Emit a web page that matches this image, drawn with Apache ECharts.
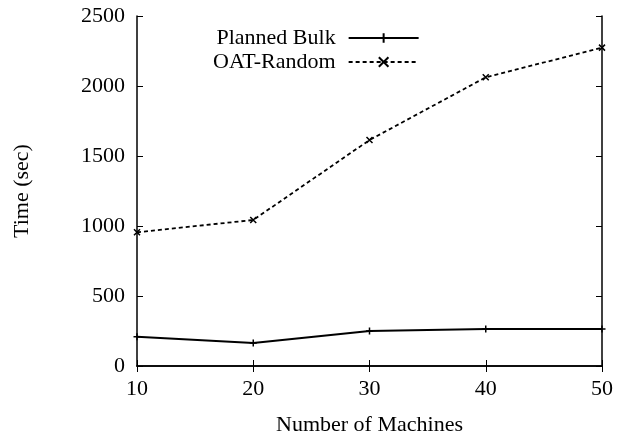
<!DOCTYPE html>
<html><head><meta charset="utf-8">
<script src="https://cdn.jsdelivr.net/npm/echarts@6/dist/echarts.min.js"></script>
<style>html,body{margin:0;padding:0;background:#fff}#c{width:617px;height:442px}</style>
</head><body><div id="c"></div>
<script>
const machines = [10, 20, 30, 40, 50];
const plannedBulk = [209, 164, 250, 264, 264];
const oatRandom = [955, 1043, 1614, 2062, 2274];
const xTicks = [10, 20, 30, 40, 50];
const yTicks = [0, 500, 1000, 1500, 2000, 2500];

const FONT = 'Liberation Serif';
const plusPath = 'path://M0,5L10,5M5,0L5,10';
const crossPath = 'path://M0,0L10,10M10,0L0,10';
const chart = echarts.init(document.getElementById('c'));
const axisCommon = {
  axisLine: {show: true, lineStyle: {color: '#000', width: 1.5}},
  axisTick: {show: true, inside: true, length: 6, lineStyle: {color: '#000'}},
  splitLine: {show: false}
};
chart.setOption({
  animation: false,
  grid: {left: 137, right: 15, top: 16, bottom: 76},
  legend: {
    left: 208, top: 22, orient: 'vertical', itemGap: 2, align: 'right',
    itemWidth: 70, itemHeight: 12,
    textStyle: {fontFamily: FONT, fontSize: 22, color: '#000', padding: [0, 8, 0, 0]},
    data: ['Planned Bulk', 'OAT-Random']
  },
  xAxis: [
    Object.assign({type: 'value', min: xTicks[0], max: xTicks[xTicks.length-1], interval: 10,
      name: 'Number of Machines', nameLocation: 'middle', nameGap: 48,
      nameTextStyle: {fontFamily: FONT, fontSize: 22, color: '#000'},
      axisLabel: {fontFamily: FONT, fontSize: 22, color: '#000', margin: 12, formatter: v => String(v)}}, axisCommon),
    Object.assign({type: 'value', position: 'top', min: xTicks[0], max: xTicks[xTicks.length-1], interval: 10,
      axisLabel: {show: false}}, axisCommon)
  ],
  yAxis: [
    Object.assign({type: 'value', min: yTicks[0], max: yTicks[yTicks.length-1], interval: 500,
      name: 'Time (sec)', nameLocation: 'middle', nameGap: 104, nameRotate: 90,
      nameTextStyle: {fontFamily: FONT, fontSize: 22, color: '#000'},
      axisLabel: {fontFamily: FONT, fontSize: 22, color: '#000', margin: 12, formatter: v => String(v)}}, axisCommon),
    Object.assign({type: 'value', position: 'right', min: yTicks[0], max: yTicks[yTicks.length-1], interval: 500,
      axisLabel: {show: false}}, axisCommon)
  ],
  series: [
    {name: 'Planned Bulk', type: 'line', data: machines.map((m,i)=>[m, plannedBulk[i]]),
     symbol: plusPath, symbolSize: 7, showAllSymbol: true,
     lineStyle: {color: '#000', width: 2}, itemStyle: {color: '#000', borderColor: '#000', borderWidth: 1.5}},
    {name: 'OAT-Random', type: 'line', data: machines.map((m,i)=>[m, oatRandom[i]]),
     symbol: crossPath, symbolSize: 6,
     lineStyle: {color: '#000', width: 1.8, type: [4, 3]}, itemStyle: {color: '#000', borderColor: '#000', borderWidth: 1.5}}
  ]
});
</script></body></html>
